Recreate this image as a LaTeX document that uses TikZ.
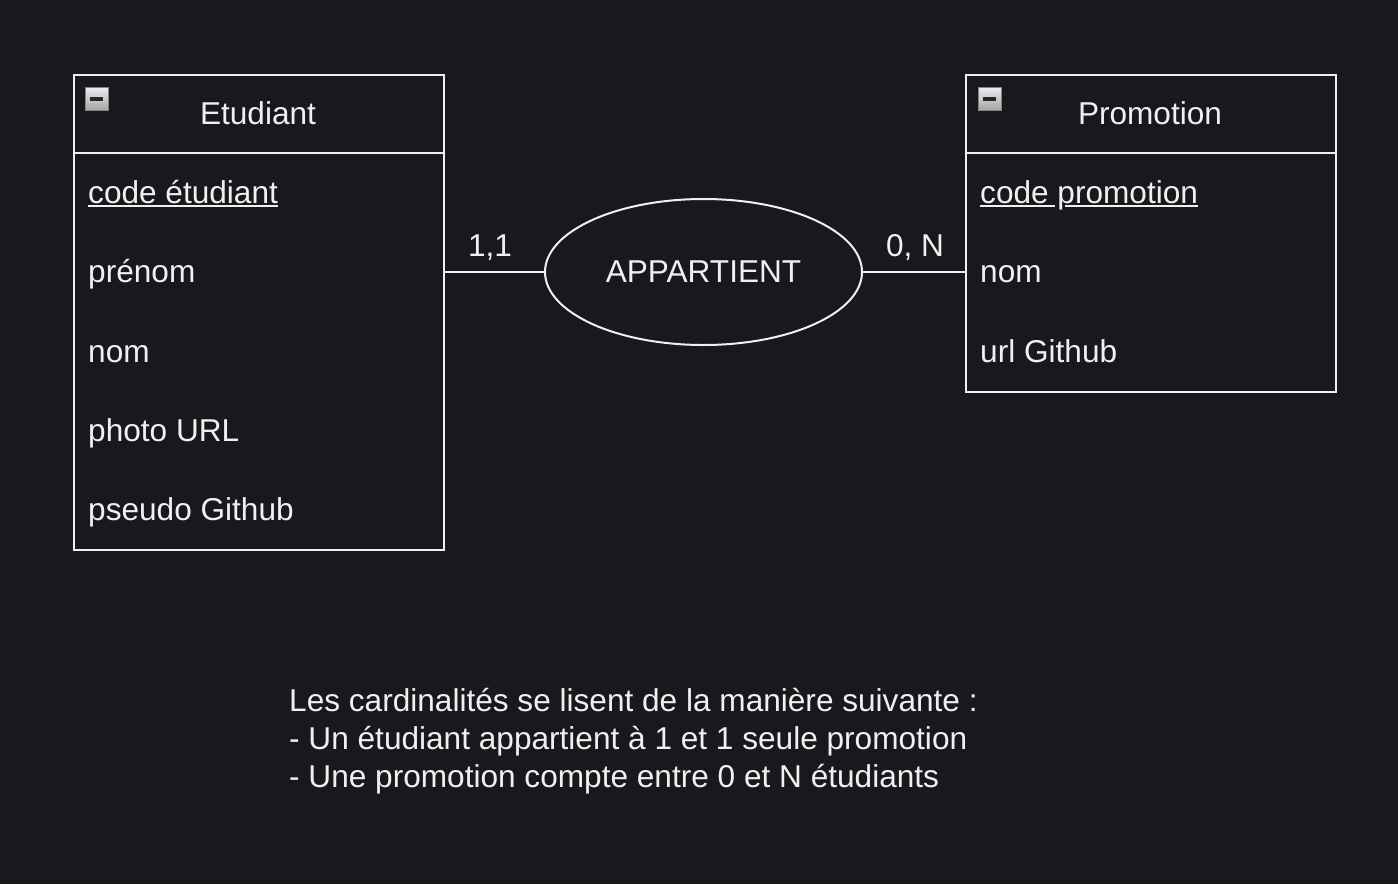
\documentclass[tikz,border=0pt]{standalone}
\usepackage{fontspec}
\setmainfont{Liberation Sans}
\usetikzlibrary{shapes.geometric}
\definecolor{bg}{HTML}{1A181D}
\definecolor{fg}{HTML}{F0F0F0}
\definecolor{iconedge}{HTML}{7E838C}
\newcommand{\attrfont}{\fontsize{31.6}{38}\selectfont}
\newlength{\cwid}
\tikzset{
  every node/.style={text=fg, font=\attrfont},
  entity/.style={draw=fg, line width=2pt, anchor=north west, minimum width=370pt, inner sep=0pt},
  attr/.style={anchor=base west, inner sep=0pt},
  title/.style={anchor=base, inner sep=0pt},
  link/.style={draw=fg, line width=2pt},
  card/.style={anchor=base, inner sep=0pt},
  ukey/.style={draw=fg, line width=2pt},
  iconbox/.style={draw=iconedge, line width=1.5pt, top color=white!85!gray, bottom color=gray!70, minimum size=23pt, inner sep=0pt, anchor=north west},
  minusbar/.style={fill=black!85, draw=none, minimum width=13pt, minimum height=3.5pt, inner sep=0pt},
}
\begin{document}
\settowidth{\cwid}{\attrfont code p}%
\begin{tikzpicture}[x=1pt,y=-1pt]
\fill[bg] (0,0) rectangle (1398,884);
\useasboundingbox (0,0) rectangle (1398,884);

% Etudiant entity
\node[entity, minimum height=475pt] (e) at (73,74) {};
\draw[link] (73,153) coordinate (eh1) -- (443,153) coordinate (eh2);
\node[title] (et) at (258,124) {Etudiant};
\node[iconbox] (ei) at (84.5,86.5) {};
\node[minusbar] (eim) at (ei.center) {};
\node[attr] (e1) at (88,203) {code étudiant};
\node[attr] (e2) at (88,282) {prénom};
\node[attr] (e3) at (88,362) {nom};
\node[attr] (e4) at (88,441) {photo URL};
\node[attr] (e5) at (88,520) {pseudo Github};
\draw[ukey] ([yshift=-3pt]e1.base west) -- ([yshift=-3pt]e1.base east);

% Promotion entity
\node[entity, minimum height=317pt] (p) at (965,74) {};
\draw[link] (965,153) coordinate (ph1) -- (1335,153) coordinate (ph2);
\node[title] (pt) at (1150,124) {Promotion};
\node[iconbox] (pi) at (977.5,86.5) {};
\node[minusbar] (pim) at (pi.center) {};
\node[attr] (p1) at (980,203) {code promotion};
\node[attr] (p2) at (980,282) {nom};
\node[attr] (p3) at (980,362) {url Github};
% \cwid = width of "code p"; the stem of p sits near the start of that last letter
\draw[ukey] ([yshift=-3pt]p1.base west) -- ([yshift=-3pt, xshift=\cwid-20pt]p1.base west);
\draw[ukey] ([yshift=-3pt, xshift=\cwid-10pt]p1.base west) -- ([yshift=-3pt]p1.base east);

% Relation
\node[ellipse, draw=fg, line width=2pt, minimum width=317pt, minimum height=146pt, inner sep=0pt] (r) at (703.5,272) {APPARTIENT};
\draw[link] (r.west) -- (r.west -| e.east);
\draw[link] (r.east) -- (r.east -| p.west);
\node[card] (c1) at (490,256) {1,1};
\node[card] (c2) at (915,256) {0, N};

% Note
\node[anchor=north west, inner sep=0pt, align=left, font=\fontsize{31.6}{38.2}\selectfont] (note) at (289,688)
{Les cardinalités se lisent de la manière suivante :\\
- Un étudiant appartient à 1 et 1 seule promotion\\
- Une promotion compte entre 0 et N étudiants};
\end{tikzpicture}
\end{document}
